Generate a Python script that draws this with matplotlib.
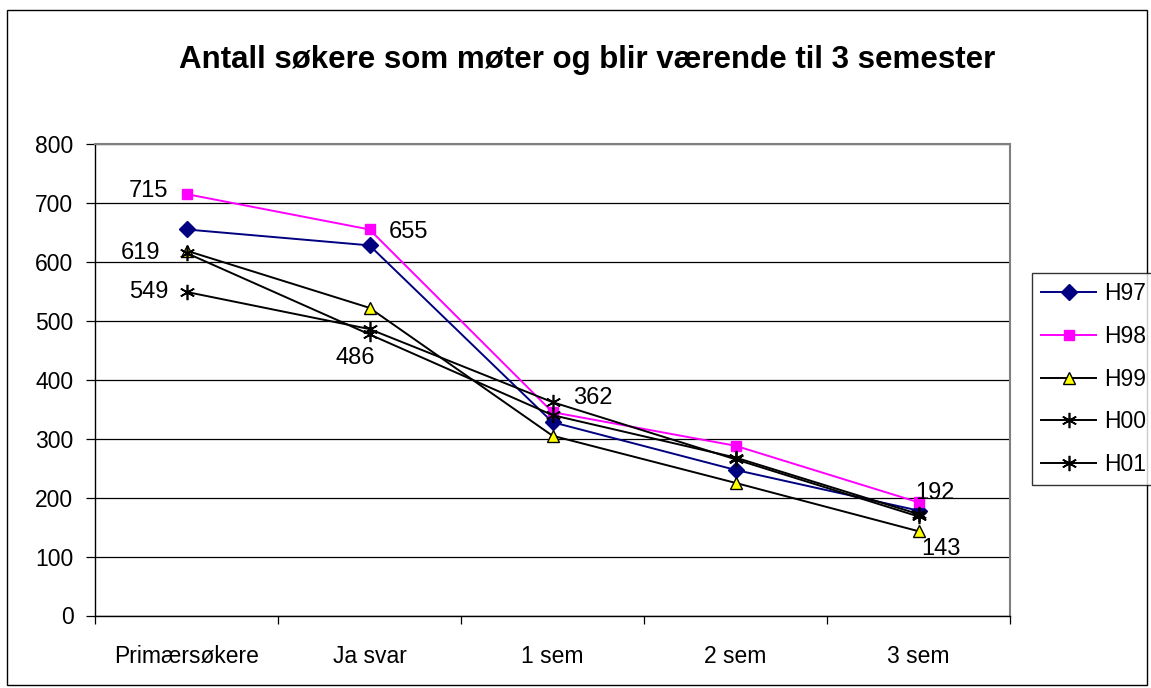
import matplotlib.pyplot as plt
from matplotlib.patches import Rectangle

plt.rcParams['font.family'] = ['Liberation Sans', 'DejaVu Sans']

# data
categories = ['Primærsøkere', 'Ja svar', '1 sem', '2 sem', '3 sem']
h97 = [655, 628, 328, 247, 178]
h98 = [715, 655, 345, 288, 192]
h99 = [619, 522, 305, 225, 143]
h00 = [615, 477, 340, 268, 172]
h01 = [549, 486, 362, 265, 168]

# data labels shown on the chart: (series, index, text offset in points)
labels = [
    (h98, 0, (-27, 2)),
    (h99, 0, (-33, -2)),
    (h01, 0, (-27, 0)),
    (h98, 1, (28, -2)),
    (h01, 1, (-10, -21)),
    (h01, 2, (29, 3)),
    (h98, 4, (12, 7)),
    (h99, 4, (16, -13)),
]

fig = plt.figure(figsize=(11.51, 6.88), dpi=100)
ax = fig.add_axes([95 / 1151, 1 - 615.5 / 688, 915 / 1151, 471.5 / 688])

x = list(range(len(categories)))
lw = 1.4
ax.plot(x, h97, color='#000080', lw=lw, marker='D', ms=8, mfc='#000080', mec='#000080', label='H97', zorder=3)
ax.plot(x, h98, color='#FF00FF', lw=lw, marker='s', ms=7.5, mfc='#FF00FF', mec='#FF00FF', label='H98', zorder=3)
ax.plot(x, h99, color='black', lw=lw, marker='^', ms=9, mfc='#FFFF00', mec='black', mew=1.0, label='H99', zorder=3)
ax.plot(x, h00, color='black', lw=lw, marker=(6, 2, 0), ms=11, mec='black', mew=1.2, label='H00', zorder=3)
ax.plot(x, h01, color='black', lw=lw, marker=(6, 2, 0), ms=11, mec='black', mew=1.2, label='H01', zorder=3)

for series, i, off in labels:
    ax.annotate(str(series[i]), (x[i], series[i]), xytext=off, textcoords='offset points',
                ha='center', va='center', fontsize=17)

ax.set_xlim(-0.5, 4.5)
ax.set_ylim(0, 800)
ax.set_yticks(range(0, 801, 100))
ax.grid(axis='y', color='black', lw=0.9)
ax.set_axisbelow(True)

ax.set_xticks(x)
ax.set_xticklabels(categories, fontsize=16.5)
ax.set_xticks([i - 0.5 for i in range(len(categories) + 1)], minor=True)
ax.tick_params(axis='x', which='major', length=0, pad=21)
ax.tick_params(axis='x', which='minor', length=6, width=0.9, direction='out')
ax.tick_params(axis='y', length=6.5, width=0.9, pad=9, labelsize=16.5)

for side in ['top', 'right']:
    ax.spines[side].set_color('#808080')
    ax.spines[side].set_linewidth(1.5)
for side in ['left', 'bottom']:
    ax.spines[side].set_color('black')
    ax.spines[side].set_linewidth(1.0)

fig.text(587 / 1151, 1 - 60 / 688, 'Antall søkere som møter og blir værende til 3 semester',
         ha='center', va='center', fontsize=22.5, fontweight='bold')

leg = fig.legend(loc='upper left', bbox_to_anchor=(1032 / 1151, 1 - 273 / 688), fontsize=16.5,
                 frameon=True, fancybox=False, edgecolor='black', handlelength=2.4,
                 labelspacing=0.86, borderpad=0.4, handletextpad=0.35, borderaxespad=0)
leg.get_frame().set_linewidth(1.0)

# outer chart border
fig.patches.append(Rectangle((7 / 1151, 3 / 688), 1140 / 1151, 675 / 688, transform=fig.transFigure,
                             fill=False, edgecolor='black', lw=1.0))

fig.savefig('out.png', dpi=100)
